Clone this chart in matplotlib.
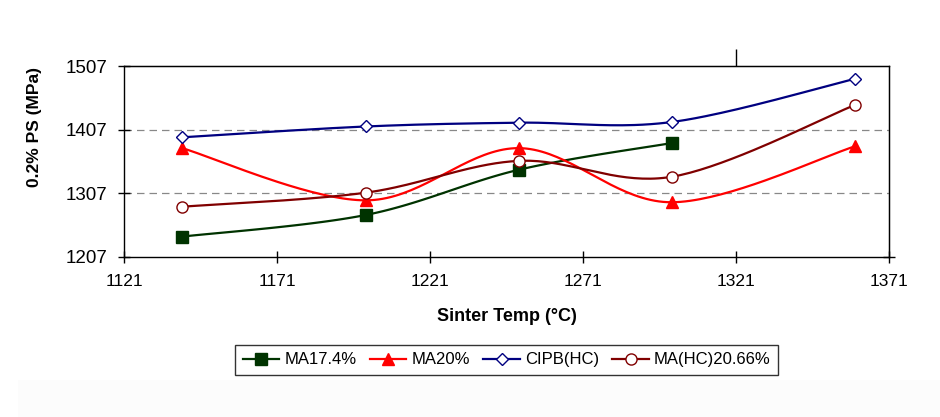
import numpy as np
import matplotlib
matplotlib.use("Agg")
import matplotlib.pyplot as plt
from matplotlib.patches import Rectangle

plt.rcParams['font.family'] = ['Liberation Sans', 'DejaVu Sans']

temps = [1140, 1200, 1250, 1300, 1360]
ma174 = [1239, 1273, 1344, 1386]
ma20 = [1378, 1296, 1378, 1293, 1381]
cipb = [1395, 1412, 1418, 1419, 1487]
mahc = [1286, 1308, 1358, 1333, 1446]

series = [
    ("MA17.4%", temps[:4], ma174, "#003300", "s", True),
    ("MA20%", temps, ma20, "#FF0000", "^", True),
    ("CIPB(HC)", temps, cipb, "#000080", "D", False),
    ("MA(HC)20.66%", temps, mahc, "#800000", "o", False),
]


def smooth(xs, ys, n=40):
    p = np.column_stack([xs, ys]).astype(float)
    p_ext = np.vstack([p[0], p, p[-1]])
    out = []
    for i in range(1, len(p_ext) - 2):
        p0, p1, p2, p3 = p_ext[i - 1], p_ext[i], p_ext[i + 1], p_ext[i + 2]
        c1 = p1 + (p2 - p0) / 6.0
        c2 = p2 - (p3 - p1) / 6.0
        t = np.linspace(0, 1, n)[:, None]
        seg = ((1 - t) ** 3) * p1 + 3 * ((1 - t) ** 2) * t * c1 + 3 * (1 - t) * t ** 2 * c2 + t ** 3 * p2
        out.append(seg if i == 1 else seg[1:])
    s = np.vstack(out)
    return s[:, 0], s[:, 1]


fig = plt.figure(figsize=(9.4, 4.17), dpi=100)
fig.patches.append(Rectangle((18 / 940, 0), 1 - 18 / 940, 37 / 417, transform=fig.transFigure,
                             facecolor="#fcfcfc", edgecolor="none", zorder=0))
ax = fig.add_axes([0.1319, 0.3837, 0.8138, 0.458])

for gy in [1307, 1407]:
    ax.axhline(gy, color="#888888", lw=0.9, ls=(0, (6, 4)), zorder=1)

handles = []
for name, xs, ys, col, mk, filled in series:
    sx, sy = smooth(xs, ys)
    ax.plot(sx, sy, color=col, lw=1.6, zorder=3)
    ax.plot(xs, ys, ls="none", marker=mk, ms=8 if mk != "D" else 6.5,
            markerfacecolor=col if filled else "white", markeredgecolor=col,
            markeredgewidth=1.0, zorder=4)
    h, = ax.plot([], [], color=col, lw=1.6, marker=mk, ms=8 if mk != "D" else 6.5,
                 markerfacecolor=col if filled else "white", markeredgecolor=col,
                 markeredgewidth=1.0)
    handles.append((h, name))

ax.set_xlim(1121, 1371)
ax.set_ylim(1207, 1507)
ax.set_xticks([1121, 1171, 1221, 1271, 1321, 1371])
ax.set_yticks([1207, 1307, 1407, 1507])
ax.tick_params(axis="x", direction="inout", length=8, width=1, labelsize=12.5, pad=8)
ax.tick_params(axis="y", direction="inout", length=8, width=1, labelsize=13.5, pad=8)
for sp in ax.spines.values():
    sp.set_linewidth(1.0)
    sp.set_color("black")

# stray top tick and right-axis tick as in the reference
top = ax.secondary_xaxis("top")
top.set_xticks([1321])
top.set_xticklabels([""])
top.tick_params(direction="out", length=12, width=1)
right = ax.secondary_yaxis("right")
right.set_yticks([1207])
right.set_yticklabels([""])
right.tick_params(direction="inout", length=8, width=1)

ax.set_xlabel("Sinter Temp (°C)", fontsize=13, fontweight="bold", labelpad=14)
ax.set_ylabel("0.2% PS (MPa)", fontsize=12.5, fontweight="bold")
ax.yaxis.set_label_coords(-0.107, 0.68)

leg = fig.legend([h for h, _ in handles], [n for _, n in handles], loc="center",
                 bbox_to_anchor=(0.539, 0.137), ncol=4, fontsize=12, frameon=True,
                 fancybox=False, shadow=False, edgecolor="black", handlelength=2.2,
                 handletextpad=0.3, columnspacing=0.8, borderpad=0.45)
leg.get_frame().set_linewidth(1.0)

fig.savefig("out.png", dpi=100, facecolor="white")
